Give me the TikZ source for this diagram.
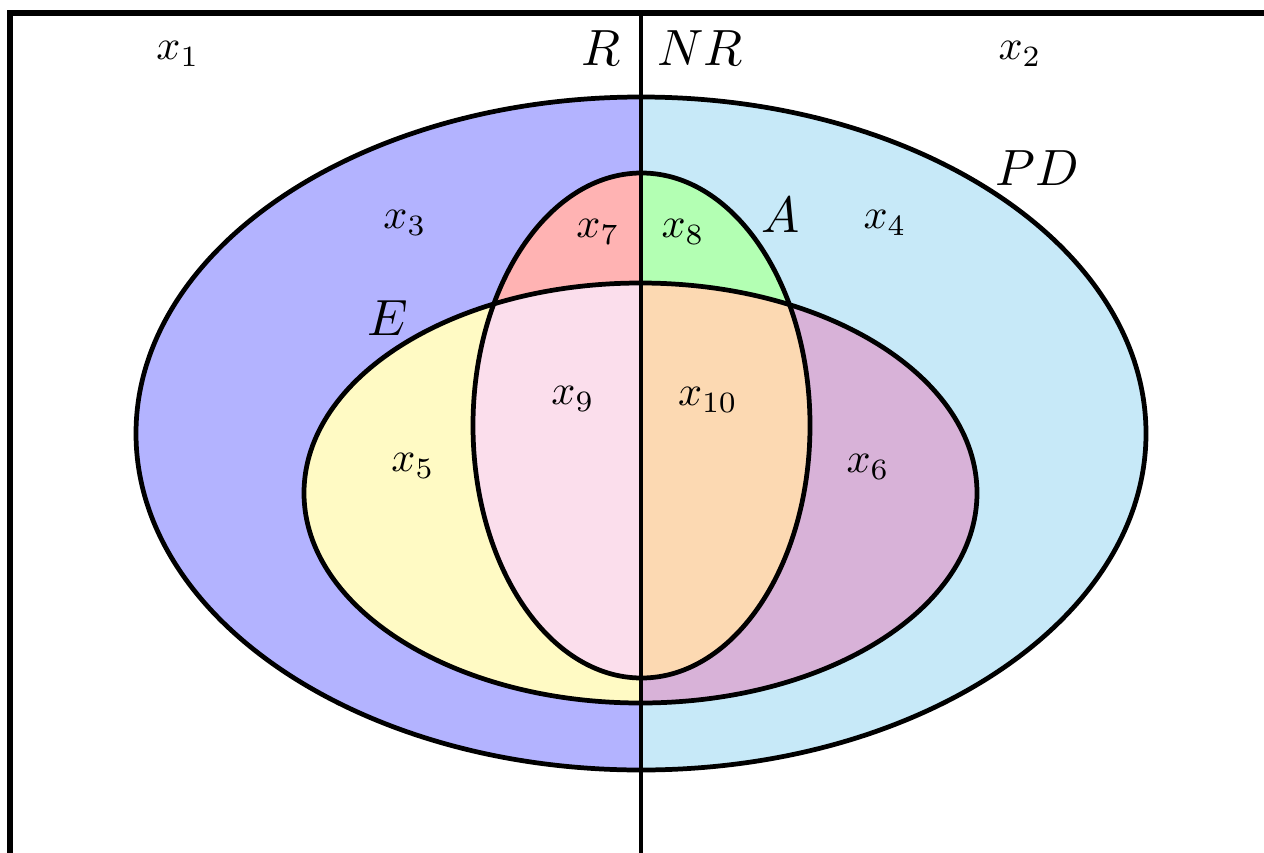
\documentclass[tikz,border=0pt]{standalone}
\definecolor{pdL}{RGB}{179,179,255}
\definecolor{pdR}{RGB}{199,233,248}
\definecolor{eL}{RGB}{255,250,196}
\definecolor{eR}{RGB}{216,178,216}
\definecolor{aL}{RGB}{255,179,179}
\definecolor{aR}{RGB}{179,255,179}
\definecolor{aeL}{RGB}{251,222,236}
\definecolor{aeR}{RGB}{252,217,178}
\begin{document}
\begin{tikzpicture}[x=0.02cm,y=-0.02cm,
  outline/.style={draw=black,line width=2.7pt},
  framestyle/.style={draw=black,line width=3pt},
  lbl/.style={scale=2.4,inner sep=0pt},
  biglbl/.style={scale=2.9,inner sep=0pt}]
\useasboundingbox (0,0) rectangle (1264,852);
\clip (0,0) rectangle (1264,852);
\def\pdpath{(641,433.5) ellipse [x radius=505, y radius=336.5]}
\def\epath{(640.5,493) ellipse [x radius=336.5, y radius=210]}
\def\apath{(641.5,425.5) ellipse [x radius=168.5, y radius=252.5]}
% left half
\begin{scope}
  \clip (0,0) rectangle (641,852);
  \fill[pdL] \pdpath;
  \fill[eL] \epath;
  \fill[aL] \apath;
  \begin{scope}
    \clip \epath;
    \fill[aeL] \apath;
  \end{scope}
\end{scope}
% right half
\begin{scope}
  \clip (641,0) rectangle (1264,852);
  \fill[pdR] \pdpath;
  \fill[eR] \epath;
  \fill[aR] \apath;
  \begin{scope}
    \clip \epath;
    \fill[aeR] \apath;
  \end{scope}
\end{scope}
% outlines
\draw[outline] \pdpath;
\draw[outline] \epath;
\draw[outline] \apath;
% frame
\draw[framestyle] (10,13) rectangle (1320,900);
\coordinate (top) at (641,13);
\coordinate (bot) at (641,860);
\draw[outline] (top) -- (bot);
% labels
\node[lbl] (x1) at (178,54) {$x_1$};
\node[lbl] (x2) at (1020,54) {$x_2$};
\node[biglbl] (R) at (601,48) {$R$};
\node[biglbl] (NR) at (700,48) {$NR$};
\node[biglbl] (PD) at (1037,168) {$PD$};
\node[lbl] (x3) at (405,223) {$x_3$};
\node[lbl] (x4) at (885,223) {$x_4$};
\node[lbl] (x7) at (598,232) {$x_7$};
\node[lbl] (x8) at (683,232) {$x_8$};
\node[biglbl] (A) at (781,215) {$A$};
\node[biglbl] (E) at (388,318) {$E$};
\node[lbl] (x9) at (573,399) {$x_9$};
\node[lbl] (x10) at (708,400) {$x_{10}$};
\node[lbl] (x5) at (413,466) {$x_5$};
\node[lbl] (x6) at (868,467) {$x_6$};
\end{tikzpicture}
\end{document}
